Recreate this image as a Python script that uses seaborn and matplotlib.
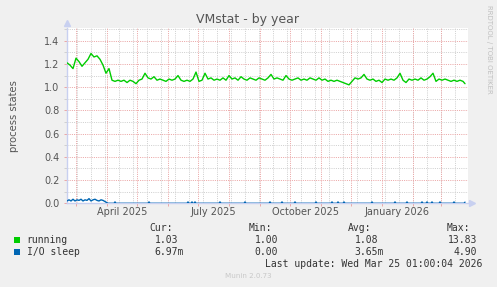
import matplotlib
matplotlib.use("Agg")
import numpy as np
import pandas as pd
import matplotlib.pyplot as plt
import seaborn as sns
from matplotlib.patches import Rectangle
from matplotlib.transforms import blended_transform_factory

# ---------------- data ----------------
start = pd.Timestamp("2025-02-19 16:00")
end = pd.Timestamp("2026-03-27 16:00")

run_days = list(range(0, 397, 3)) + [398]
running = [1.21, 1.19, 1.16, 1.25, 1.22, 1.18, 1.21, 1.24, 1.29, 1.26,
           1.27, 1.24, 1.19, 1.12, 1.16, 1.06, 1.05, 1.06, 1.05, 1.06,
           1.04, 1.06, 1.05, 1.03, 1.06, 1.07, 1.12, 1.08, 1.07, 1.09,
           1.06, 1.07, 1.06, 1.05, 1.07, 1.06, 1.07, 1.10, 1.06, 1.05,
           1.06, 1.05, 1.07, 1.13, 1.05, 1.06, 1.12, 1.07, 1.08, 1.06,
           1.07, 1.06, 1.08, 1.06, 1.10, 1.07, 1.08, 1.06, 1.09, 1.07,
           1.06, 1.08, 1.07, 1.06, 1.08, 1.07, 1.06, 1.08, 1.11, 1.07,
           1.08, 1.07, 1.06, 1.10, 1.07, 1.06, 1.07, 1.08, 1.06, 1.07,
           1.06, 1.08, 1.07, 1.06, 1.08, 1.06, 1.07, 1.05, 1.06, 1.05,
           1.06, 1.05, 1.04, 1.03, 1.02, 1.05, 1.08, 1.07, 1.08, 1.11,
           1.07, 1.06, 1.07, 1.05, 1.06, 1.04, 1.07, 1.06, 1.07, 1.06,
           1.08, 1.12, 1.06, 1.04, 1.07, 1.06, 1.07, 1.06, 1.08, 1.06,
           1.07, 1.09, 1.12, 1.05, 1.07, 1.06, 1.07, 1.06, 1.05, 1.06,
           1.05, 1.06, 1.05, 1.03]

io_days = [0, 2, 4, 6, 8, 10, 12, 14, 16, 18, 20, 22, 24, 26, 28, 30, 32, 34, 36, 38, 40, 41,
           47, 48, 49, 81, 82, 83, 120, 121, 122, 124, 125, 126, 127, 128, 129,
           152, 153, 154, 177, 178, 179, 202, 203, 204, 214, 215, 216, 227, 228, 229,
           248, 249, 250, 264, 265, 266, 270, 271, 272, 276, 277, 278, 304, 305, 306,
           327, 328, 329, 339, 340, 341, 354, 355, 356, 359, 360, 361, 364, 365, 366,
           372, 373, 374, 386, 387, 388, 397, 398]
io_sleep = [0.02, 0.03, 0.02, 0.035, 0.02, 0.03, 0.025, 0.035, 0.02, 0.03, 0.025, 0.04,
            0.02, 0.03, 0.035, 0.025, 0.02, 0.03, 0.025, 0.015, 0.005, 0.0,
            0, 0.012, 0, 0, 0.012, 0, 0, 0.012, 0, 0, 0.012, 0, 0, 0.012, 0,
            0, 0.012, 0, 0, 0.012, 0, 0, 0.012, 0, 0, 0.012, 0, 0, 0.012, 0,
            0, 0.012, 0, 0, 0.012, 0, 0, 0.012, 0, 0, 0.012, 0, 0, 0.012, 0,
            0, 0.012, 0, 0, 0.012, 0, 0, 0.012, 0, 0, 0.012, 0, 0, 0.012, 0,
            0, 0.012, 0, 0, 0.012, 0, 0, 0.01]

y_major = [0.0, 0.2, 0.4, 0.6, 0.8, 1.0, 1.2, 1.4]
y_minor = [0.1, 0.3, 0.5, 0.7, 0.9, 1.1, 1.3, 1.5]
month_lines = pd.date_range("2025-03-01", "2026-03-01", freq="MS")
week_lines = pd.date_range("2025-03-02", "2026-03-27", freq="14D")
x_label_dates = pd.to_datetime(["2025-04-16", "2025-07-16", "2025-10-16", "2026-01-16"])
x_labels = ["April 2025", "July 2025", "October 2025", "January 2026"]

title = "VMstat - by year"
ylabel = "process states"
legend_names = ["running", "I/O sleep"]
legend_colors = ["#00CC00", "#0066B3"]
cur_vals = ["1.03", "6.97m"]
min_vals = ["1.00", "0.00"]
avg_vals = ["1.08", "3.65m"]
max_vals = ["13.83", "4.90"]
last_update = "Last update: Wed Mar 25 01:00:04 2026"

# ---------------- figure ----------------
sns.set_style("white")
plt.rcParams['font.family'] = ['DejaVu Sans']

W, H = 497, 287
fig = plt.figure(figsize=(W / 100, H / 100), dpi=100, facecolor="#F0F0F0")
ax = fig.add_axes([67 / W, 1 - 203.3 / H, (468 - 67) / W, (203.3 - 28.3) / H])
ax.set_facecolor("white")

df_run = pd.DataFrame({"date": start + pd.to_timedelta(run_days, unit="D"), "v": running})
df_io = pd.DataFrame({"date": start + pd.to_timedelta(io_days, unit="D"), "v": io_sleep})

grid_gray = "#d0d0d0"
grid_red = "#eba6a6"
dots = (0, (1, 1.2))
for y in y_minor:
    ax.axhline(y, color=grid_gray, lw=0.72, ls=dots, zorder=0)
for d in week_lines:
    ax.axvline(d, color=grid_gray, lw=0.72, ls=dots, zorder=0)
for y in y_major[1:]:
    ax.axhline(y, color=grid_red, lw=0.72, ls=dots, zorder=0.5)
for d in month_lines:
    ax.axvline(d, color=grid_red, lw=0.72, ls=dots, zorder=0.5)

sns.lineplot(data=df_run, x="date", y="v", color=legend_colors[0], lw=1.0, ax=ax, zorder=3)
sns.lineplot(data=df_io, x="date", y="v", color=legend_colors[1], lw=1.0, ax=ax, zorder=3)

ax.set_xlim(start, end)
ax.set_ylim(0, 1.507)
ax.set_xlabel("")
ax.set_ylabel(ylabel, fontsize=7.2, color="#555555")
ax.yaxis.set_label_coords(-(67 - 19) / 401, 0.5)

ax.set_yticks(y_major)
ax.set_yticklabels([f"{v:.1f}" for v in y_major])
ax.set_yticks(y_minor, minor=True)
ax.tick_params(axis="y", which="major", length=2, width=0.7, color=grid_red,
               labelsize=7, labelcolor="#555555", pad=3.5, left=True)
ax.tick_params(axis="y", which="minor", length=2, width=0.7, color=grid_gray, left=True)

ax.set_xticks(list(month_lines))
ax.set_xticklabels([""] * len(month_lines))
ax.tick_params(axis="x", which="major", length=2, width=0.7, color=grid_red, bottom=True)
trans = blended_transform_factory(ax.transData, ax.transAxes)
for d, lab in zip(x_label_dates, x_labels):
    ax.text(d, -0.052, lab, transform=trans, ha="center", va="center",
            fontsize=7, color="#555555")

for s in ["top", "right"]:
    ax.spines[s].set_visible(False)
for s in ["left", "bottom"]:
    ax.spines[s].set_color("#c8d0f0")
    ax.spines[s].set_linewidth(1.0)

ax.plot([0], [1.028], transform=ax.transAxes, marker="^", ms=4, color="#c8d0f0",
        clip_on=False, zorder=5)
ax.plot([1.01], [0], transform=ax.transAxes, marker=">", ms=4, color="#c8d0f0",
        clip_on=False, zorder=5)

# title and side texts
fig.text(248 / W, 1 - 19 / H, title, ha="center", va="center", fontsize=9, color="#555555")
fig.text(489 / W, 1 - 5 / H, "RRDTOOL / TOBI OETIKER", rotation=270, ha="center", va="top",
         fontsize=5, color="#c0c0c0")
fig.text(248 / W, 1 - 276 / H, "Munin 2.0.73", ha="center", va="center",
         fontsize=5.1, color="#c8c8c8")

# legend
mono = "DejaVu Sans Mono"
tc = "#333333"
fs = 7
def ft(x, y, s, ha="left"):
    fig.text(x / W, 1 - y / H, s, ha=ha, va="center", fontsize=fs, family=mono, color=tc)

ft(149, 227.7, "Cur:")
ft(249, 227.7, "Min:")
ft(348, 227.7, "Avg:")
ft(447, 227.7, "Max:")
rows_y = [239.7, 251.7]
for i in range(2):
    y = rows_y[i]
    fig.add_artist(Rectangle((14 / W, 1 - (y + 3) / H), 6 / W, 6 / H,
                             transform=fig.transFigure, color=legend_colors[i], lw=0))
    ft(26.7, y, legend_names[i])
    for xr, val in zip([178, 278, 378, 477], [cur_vals[i], min_vals[i], avg_vals[i], max_vals[i]]):
        if val.endswith("m"):
            ft(xr + 5.9, y, val, ha="right")
        else:
            ft(xr, y, val, ha="right")
ft(482, 263.7, last_update, ha="right")

fig.savefig("out.png", dpi=100, facecolor=fig.get_facecolor())
